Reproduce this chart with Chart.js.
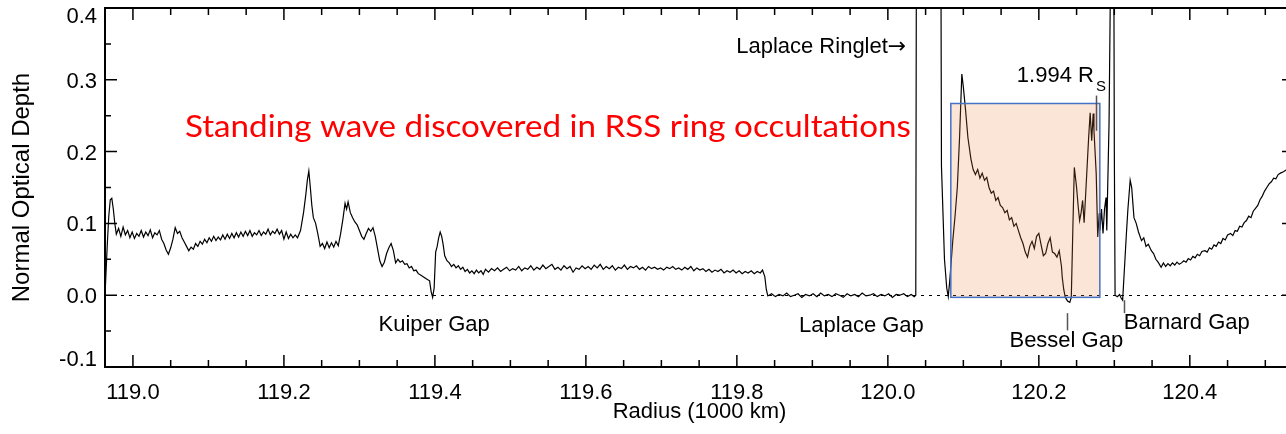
<!DOCTYPE html>
<html>
<head>
<meta charset="utf-8">
<title>Normal Optical Depth vs Radius</title>
<script src="https://cdn.jsdelivr.net/npm/chart.js@4.4.0/dist/chart.umd.min.js"></script>
<style>
    html, body { margin: 0; padding: 0; background: #fff; overflow: hidden; }
    #wrap { width: 1294px; height: 434px; }
</style>
</head>
<body>
<div id="wrap"><canvas id="depthChart"></canvas></div>
<script>
// Ring profile: radius (1000 km) and normal optical depth
const radius = [
    118.963, 118.966, 118.968, 118.970, 118.972, 118.974, 118.976, 118.978, 118.981, 118.984,
    118.987, 118.990, 118.993, 118.996, 118.999, 119.002, 119.005, 119.008, 119.011, 119.014,
    119.017, 119.020, 119.023, 119.026, 119.029, 119.032, 119.035, 119.038, 119.041, 119.044,
    119.047, 119.050, 119.053, 119.056, 119.059, 119.062, 119.065, 119.068, 119.071, 119.074,
    119.077, 119.080, 119.083, 119.086, 119.089, 119.092, 119.095, 119.098, 119.101, 119.104,
    119.107, 119.110, 119.113, 119.116, 119.119, 119.122, 119.125, 119.128, 119.131, 119.134,
    119.137, 119.140, 119.143, 119.146, 119.149, 119.152, 119.155, 119.158, 119.161, 119.164,
    119.167, 119.170, 119.173, 119.176, 119.179, 119.182, 119.185, 119.188, 119.191, 119.194,
    119.197, 119.200, 119.203, 119.206, 119.209, 119.212, 119.215, 119.218, 119.222, 119.226,
    119.229, 119.231, 119.233, 119.235, 119.237, 119.239, 119.242, 119.245, 119.248, 119.251,
    119.254, 119.257, 119.260, 119.263, 119.266, 119.269, 119.272, 119.275, 119.278, 119.281,
    119.283, 119.285, 119.288, 119.291, 119.294, 119.297, 119.300, 119.303, 119.306, 119.309,
    119.312, 119.315, 119.318, 119.321, 119.324, 119.327, 119.330, 119.333, 119.336, 119.339,
    119.342, 119.345, 119.348, 119.351, 119.354, 119.357, 119.360, 119.363, 119.366, 119.369,
    119.372, 119.375, 119.378, 119.381, 119.384, 119.387, 119.390, 119.393, 119.395, 119.397,
    119.399, 119.401, 119.403, 119.405, 119.407, 119.409, 119.411, 119.413, 119.416, 119.419,
    119.422, 119.425, 119.428, 119.431, 119.434, 119.437, 119.440, 119.443, 119.446, 119.449,
    119.452, 119.455, 119.458, 119.461, 119.464, 119.467, 119.471, 119.475, 119.479, 119.483,
    119.487, 119.491, 119.495, 119.499, 119.503, 119.507, 119.511, 119.515, 119.519, 119.523,
    119.527, 119.531, 119.535, 119.539, 119.543, 119.547, 119.551, 119.555, 119.559, 119.563,
    119.567, 119.571, 119.575, 119.579, 119.583, 119.587, 119.591, 119.595, 119.599, 119.603,
    119.607, 119.611, 119.615, 119.619, 119.623, 119.627, 119.631, 119.635, 119.639, 119.643,
    119.647, 119.651, 119.655, 119.659, 119.663, 119.667, 119.671, 119.675, 119.679, 119.683,
    119.687, 119.691, 119.695, 119.699, 119.703, 119.707, 119.711, 119.715, 119.719, 119.723,
    119.727, 119.731, 119.735, 119.739, 119.743, 119.747, 119.751, 119.755, 119.759, 119.763,
    119.767, 119.771, 119.775, 119.779, 119.783, 119.787, 119.791, 119.795, 119.799, 119.803,
    119.807, 119.811, 119.815, 119.819, 119.823, 119.827, 119.831, 119.834, 119.837, 119.839,
    119.841, 119.846, 119.851, 119.856, 119.861, 119.866, 119.871, 119.876, 119.881, 119.886,
    119.891, 119.896, 119.901, 119.906, 119.911, 119.916, 119.921, 119.926, 119.931, 119.936,
    119.941, 119.946, 119.951, 119.956, 119.961, 119.966, 119.971, 119.976, 119.981, 119.986,
    119.991, 119.996, 120.001, 120.006, 120.011, 120.016, 120.021, 120.026, 120.031, 120.035,
    120.037, 120.038, 120.070, 120.071, 120.075, 120.078, 120.080, 120.082, 120.086, 120.089,
    120.092, 120.095, 120.098, 120.100, 120.103, 120.106, 120.110, 120.113, 120.116, 120.119,
    120.122, 120.125, 120.128, 120.131, 120.134, 120.137, 120.140, 120.143, 120.146, 120.149,
    120.152, 120.155, 120.158, 120.161, 120.164, 120.167, 120.170, 120.173, 120.176, 120.179,
    120.182, 120.185, 120.188, 120.191, 120.194, 120.197, 120.200, 120.203, 120.206, 120.209,
    120.212, 120.215, 120.218, 120.221, 120.224, 120.227, 120.230, 120.231, 120.233, 120.235,
    120.238, 120.241, 120.243, 120.245, 120.247, 120.250, 120.252, 120.254, 120.256, 120.258,
    120.260, 120.262, 120.264, 120.266, 120.268, 120.270, 120.272, 120.273, 120.276, 120.278,
    120.280, 120.281, 120.283, 120.285, 120.287, 120.289, 120.290, 120.293, 120.295, 120.296,
    120.299, 120.300, 120.301, 120.304, 120.307, 120.309, 120.311, 120.313, 120.316, 120.318,
    120.321, 120.323, 120.326, 120.329, 120.332, 120.336, 120.339, 120.342, 120.345, 120.349,
    120.352, 120.355, 120.358, 120.362, 120.365, 120.368, 120.371, 120.374, 120.377, 120.380,
    120.383, 120.386, 120.389, 120.392, 120.395, 120.398, 120.401, 120.404, 120.407, 120.410,
    120.413, 120.416, 120.420, 120.423, 120.426, 120.429, 120.432, 120.435, 120.438, 120.441,
    120.444, 120.447, 120.450, 120.454, 120.457, 120.460, 120.463, 120.466, 120.469, 120.472,
    120.475, 120.478, 120.481, 120.484, 120.487, 120.490, 120.493, 120.496, 120.499, 120.502,
    120.505, 120.508, 120.511, 120.514, 120.517, 120.520, 120.524, 120.527, 120.531
];

const depth = [
    0.000, 0.070, 0.110, 0.133, 0.135, 0.120, 0.100, 0.085, 0.093, 0.082,
    0.095, 0.084, 0.090, 0.080, 0.088, 0.079, 0.086, 0.082, 0.090, 0.081,
    0.088, 0.083, 0.091, 0.080, 0.087, 0.084, 0.090, 0.078, 0.072, 0.063,
    0.057, 0.066, 0.078, 0.094, 0.086, 0.089, 0.080, 0.074, 0.068, 0.062,
    0.067, 0.064, 0.072, 0.068, 0.075, 0.071, 0.078, 0.073, 0.080, 0.075,
    0.082, 0.076, 0.081, 0.077, 0.084, 0.078, 0.085, 0.079, 0.086, 0.080,
    0.087, 0.081, 0.088, 0.082, 0.089, 0.083, 0.090, 0.082, 0.087, 0.084,
    0.090, 0.083, 0.088, 0.085, 0.092, 0.084, 0.089, 0.086, 0.092, 0.085,
    0.090, 0.078, 0.088, 0.079, 0.085, 0.080, 0.084, 0.080, 0.090, 0.115,
    0.140, 0.160, 0.173, 0.150, 0.125, 0.108, 0.100, 0.085, 0.068, 0.072,
    0.065, 0.074, 0.066, 0.073, 0.067, 0.075, 0.069, 0.085, 0.105, 0.128,
    0.120, 0.130, 0.115, 0.108, 0.102, 0.098, 0.090, 0.082, 0.078, 0.086,
    0.093, 0.089, 0.094, 0.082, 0.065, 0.048, 0.040, 0.046, 0.058, 0.066,
    0.072, 0.062, 0.045, 0.050, 0.046, 0.048, 0.043, 0.044, 0.038, 0.040,
    0.034, 0.035, 0.030, 0.028, 0.026, 0.024, 0.022, 0.020, 0.005, -0.003,
    0.010, 0.060, 0.068, 0.080, 0.088, 0.082, 0.070, 0.055, 0.048, 0.045,
    0.040, 0.043, 0.038, 0.041, 0.036, 0.039, 0.033, 0.036, 0.031, 0.034,
    0.030, 0.035, 0.031, 0.034, 0.029, 0.036, 0.032, 0.037, 0.034, 0.038,
    0.033, 0.036, 0.039, 0.034, 0.037, 0.035, 0.040, 0.034, 0.038, 0.036,
    0.041, 0.035, 0.039, 0.036, 0.042, 0.037, 0.040, 0.043, 0.036, 0.039,
    0.035, 0.041, 0.037, 0.040, 0.032, 0.038, 0.036, 0.041, 0.037, 0.040,
    0.036, 0.042, 0.038, 0.043, 0.036, 0.040, 0.037, 0.041, 0.035, 0.039,
    0.037, 0.042, 0.036, 0.040, 0.038, 0.041, 0.036, 0.039, 0.035, 0.040,
    0.037, 0.039, 0.036, 0.038, 0.035, 0.039, 0.037, 0.040, 0.036, 0.038,
    0.035, 0.039, 0.036, 0.040, 0.034, 0.038, 0.035, 0.037, 0.033, 0.036,
    0.032, 0.035, 0.033, 0.036, 0.031, 0.034, 0.032, 0.035, 0.031, 0.034,
    0.030, 0.033, 0.031, 0.034, 0.030, 0.033, 0.031, 0.035, 0.026, 0.008,
    -0.001, 0.002, -0.002, 0.001, -0.001, 0.003, -0.002, 0.000, 0.002, -0.003,
    0.001, -0.001, 0.002, -0.002, 0.003, -0.001, 0.001, -0.002, 0.002, 0.000,
    -0.003, 0.002, -0.001, 0.001, -0.002, 0.003, -0.001, 0.000, 0.002, -0.002,
    0.001, -0.001, 0.002, -0.003, 0.001, 0.000, 0.002, -0.002, 0.001, -0.002,
    0.000, 0.600, 0.600, 0.180, 0.050, 0.010, -0.002, 0.020, 0.076, 0.110,
    0.150, 0.220, 0.308, 0.290, 0.257, 0.220, 0.190, 0.175, 0.168, 0.175,
    0.163, 0.170, 0.160, 0.164, 0.150, 0.142, 0.145, 0.132, 0.136, 0.125,
    0.122, 0.115, 0.118, 0.105, 0.108, 0.096, 0.100, 0.090, 0.080, 0.072,
    0.060, 0.053, 0.068, 0.075, 0.065, 0.082, 0.086, 0.070, 0.055, 0.058,
    0.072, 0.080, 0.060, 0.058, 0.053, 0.062, 0.040, 0.025, 0.008, -0.003,
    -0.008, -0.010, -0.003, 0.090, 0.178, 0.150, 0.125, 0.104, 0.115, 0.132,
    0.101, 0.140, 0.180, 0.220, 0.254, 0.215, 0.253, 0.230, 0.169, 0.081,
    0.114, 0.090, 0.120, 0.086, 0.120, 0.136, 0.090, 0.239, 0.450, 0.600,
    0.600, 0.200, 0.000, -0.002, 0.001, -0.004, -0.007, 0.030, 0.086, 0.120,
    0.160, 0.150, 0.108, 0.100, 0.088, 0.076, 0.080, 0.068, 0.071, 0.062,
    0.058, 0.050, 0.046, 0.039, 0.045, 0.040, 0.044, 0.041, 0.045, 0.042,
    0.046, 0.043, 0.045, 0.048, 0.046, 0.051, 0.049, 0.054, 0.052, 0.057,
    0.055, 0.061, 0.062, 0.060, 0.066, 0.064, 0.070, 0.068, 0.074, 0.072,
    0.079, 0.077, 0.084, 0.086, 0.083, 0.090, 0.089, 0.096, 0.095, 0.101,
    0.104, 0.110, 0.108, 0.117, 0.121, 0.125, 0.133, 0.138, 0.145, 0.150,
    0.155, 0.158, 0.163, 0.162, 0.168, 0.170, 0.172, 0.174, 0.176
];

// Axis limits and ticks
const X_MIN = 118.963;
const X_MAX = 120.538;
const Y_MIN = -0.1;
const Y_MAX = 0.4;

const xMajorTicks = [119.0, 119.2, 119.4, 119.6, 119.8, 120.0, 120.2, 120.4];
const xTickLabels = ['119.0', '119.2', '119.4', '119.6', '119.8', '120.0', '120.2', '120.4'];
const xMinorTicks = [119.05, 119.1, 119.15, 119.25, 119.3, 119.35, 119.45, 119.5, 119.55,
                     119.65, 119.7, 119.75, 119.85, 119.9, 119.95, 120.05, 120.1, 120.15,
                     120.25, 120.3, 120.35, 120.45, 120.5];
const yMajorTicks = [-0.1, 0.0, 0.1, 0.2, 0.3, 0.4];
const yTickLabels = ['-0.1', '0.0', '0.1', '0.2', '0.3', '0.4'];
const yMinorTicks = [-0.05, 0.05, 0.15, 0.25, 0.35];

// Highlighted standing-wave region (radius range, depth range)
const waveRange = [120.0834, 120.2808];
const waveDepth = [-0.003, 0.267];

const FONT = "'Liberation Sans', Arial, Helvetica, sans-serif";

// Feature labels: text, anchor radius, anchor depth, alignment
const featureLabels = [
    { text: 'Kuiper Gap', r: 119.399, v: -0.050, align: 'center' },
    { text: 'Laplace Gap', r: 119.965, v: -0.051, align: 'center' },
    { text: 'Bessel Gap', r: 120.2364, v: -0.072, align: 'center' },
    { text: 'Barnard Gap', r: 120.3126, v: -0.047, align: 'left' },
    { text: 'Laplace Ringlet', r: 120.0, v: 0.3375, align: 'right' }
];
// Short leader lines [radius, depth from, depth to]
const leaders = [
    [120.237, -0.025, -0.049],
    [120.3126, -0.007, -0.025],
    [120.2755, 0.278, 0.229]
];

const points = radius.map((r, i) => ({ x: r, y: depth[i] }));

// Draws the box frame, inward ticks, zero line, highlight box and labels
const profileDecor = {
    id: 'profileDecor',
    beforeDatasetsDraw(chart) {
        const { ctx, chartArea: a, scales: { y } } = chart;
        const y0 = Math.round(y.getPixelForValue(0)) + 0.5;
        ctx.save();
        ctx.strokeStyle = '#000';
        ctx.lineWidth = 1;
        ctx.setLineDash([3, 5]);
        ctx.beginPath();
        ctx.moveTo(a.left, y0);
        ctx.lineTo(a.right, y0);
        ctx.stroke();
        ctx.restore();
    },
    afterDatasetsDraw(chart) {
        const { ctx, chartArea: a, scales: { x, y } } = chart;
        ctx.save();

        // standing wave box
        const bx0 = x.getPixelForValue(waveRange[0]);
        const bx1 = x.getPixelForValue(waveRange[1]);
        const by0 = y.getPixelForValue(waveDepth[1]);
        const by1 = y.getPixelForValue(waveDepth[0]);
        ctx.fillStyle = 'rgba(237, 125, 49, 0.2)';
        ctx.fillRect(bx0, by0, bx1 - bx0, by1 - by0);
        ctx.strokeStyle = '#4472C4';
        ctx.lineWidth = 1.5;
        ctx.strokeRect(bx0, by0, bx1 - bx0, by1 - by0);

        // frame
        ctx.strokeStyle = '#000';
        ctx.lineWidth = 2;
        ctx.beginPath();
        ctx.moveTo(a.left, a.top);
        ctx.lineTo(a.left, a.bottom);
        ctx.lineTo(a.right, a.bottom);
        ctx.lineTo(a.right, a.top);
        ctx.closePath();
        ctx.stroke();

        // inward ticks on all four sides
        const tick = (vals, len) => {
            vals.forEach(v => {
                const px = x.getPixelForValue(v);
                ctx.beginPath();
                ctx.moveTo(px, a.bottom);
                ctx.lineTo(px, a.bottom - len);
                ctx.moveTo(px, a.top);
                ctx.lineTo(px, a.top + len);
                ctx.stroke();
            });
        };
        const ytick = (vals, len) => {
            vals.forEach(v => {
                const py = y.getPixelForValue(v);
                ctx.beginPath();
                ctx.moveTo(a.left, py);
                ctx.lineTo(a.left + len, py);
                ctx.moveTo(a.right, py);
                ctx.lineTo(a.right - len, py);
                ctx.stroke();
            });
        };
        ctx.lineWidth = 1.5;
        tick(xMajorTicks, 12);
        tick(xMinorTicks, 7);
        ytick(yMajorTicks, 12);
        ytick(yMinorTicks, 6);

        // y tick labels, kept inside the axis span
        ctx.fillStyle = '#000';
        ctx.font = '22px ' + FONT;
        ctx.textAlign = 'right';
        ctx.textBaseline = 'middle';
        yMajorTicks.forEach((v, i) => {
            let py = y.getPixelForValue(v) + 2;
            py = Math.min(Math.max(py, a.top + 9), a.bottom - 7);
            ctx.fillText(yTickLabels[i], a.left - 8, py);
        });

        // feature labels
        ctx.textBaseline = 'alphabetic';
        featureLabels.forEach(l => {
            ctx.textAlign = l.align;
            ctx.fillText(l.text, x.getPixelForValue(l.r), y.getPixelForValue(l.v));
        });

        // arrow after "Laplace Ringlet"
        ctx.font = '22px "DejaVu Sans", sans-serif';
        ctx.textAlign = 'left';
        ctx.fillText('\u2192', x.getPixelForValue(120.0), y.getPixelForValue(0.3375));

        // 1.994 R_S
        ctx.font = '22px ' + FONT;
        const rsX = x.getPixelForValue(120.1709);
        const rsY = y.getPixelForValue(0.297);
        ctx.fillText('1.994 R', rsX, rsY);
        const w = ctx.measureText('1.994 R').width;
        ctx.font = '15px ' + FONT;
        ctx.fillText('S', rsX + w + 2, rsY + 9);

        // leader lines
        ctx.strokeStyle = '#555';
        ctx.lineWidth = 1.5;
        leaders.forEach(([r, v0, v1]) => {
            const px = Math.round(x.getPixelForValue(r)) + 0.5;
            ctx.beginPath();
            ctx.moveTo(px, y.getPixelForValue(v0));
            ctx.lineTo(px, y.getPixelForValue(v1));
            ctx.stroke();
        });

        // red headline
        const headline = 'Standing wave discovered in RSS ring occultations';
        ctx.font = '31px Lato, "Open Sans", sans-serif';
        ctx.fillStyle = '#FF0000';
        const hw = ctx.measureText(headline).width;
        ctx.translate(x.getPixelForValue(119.0689), y.getPixelForValue(0.221));
        ctx.scale(726 / hw, 1);
        ctx.fillText(headline, 0, 0);

        ctx.restore();
    }
};

const ctx = document.getElementById('depthChart').getContext('2d');
new Chart(ctx, {
    type: 'line',
    data: {
        datasets: [{
            data: points,
            borderColor: '#000',
            borderWidth: 1.2,
            pointRadius: 0,
            tension: 0,
            fill: false
        }]
    },
    options: {
        responsive: true,
        maintainAspectRatio: false,
        animation: false,
        layout: { padding: { top: 8, right: 0, bottom: 0, left: 0 } },
        plugins: {
            legend: { display: false },
            tooltip: { enabled: false }
        },
        scales: {
            x: {
                type: 'linear',
                min: X_MIN,
                max: X_MAX,
                grid: { display: false },
                border: { display: false },
                afterBuildTicks: function(scale) {
                    scale.ticks = xMajorTicks.map(v => ({ value: v }));
                },
                afterFit: function(scale) {
                    scale.height = 67;
                },
                ticks: {
                    padding: 5,
                    maxRotation: 0,
                    autoSkip: false,
                    color: '#000',
                    font: { family: FONT, size: 22 },
                    callback: function(value, index) {
                        return xTickLabels[index];
                    }
                },
                title: {
                    display: true,
                    text: 'Radius (1000 km)',
                    color: '#000',
                    font: { family: FONT, size: 22 },
                    padding: { top: 0, bottom: 9 }
                }
            },
            y: {
                min: Y_MIN,
                max: Y_MAX,
                grid: { display: false },
                border: { display: false },
                ticks: { display: false },
                afterFit: function(scale) {
                    scale.width = 105;
                },
                title: {
                    display: true,
                    text: 'Normal Optical Depth',
                    color: '#000',
                    font: { family: FONT, size: 24 },
                    padding: { top: 8, bottom: 0 }
                }
            }
        }
    },
    plugins: [profileDecor]
});
</script>
</body>
</html>
